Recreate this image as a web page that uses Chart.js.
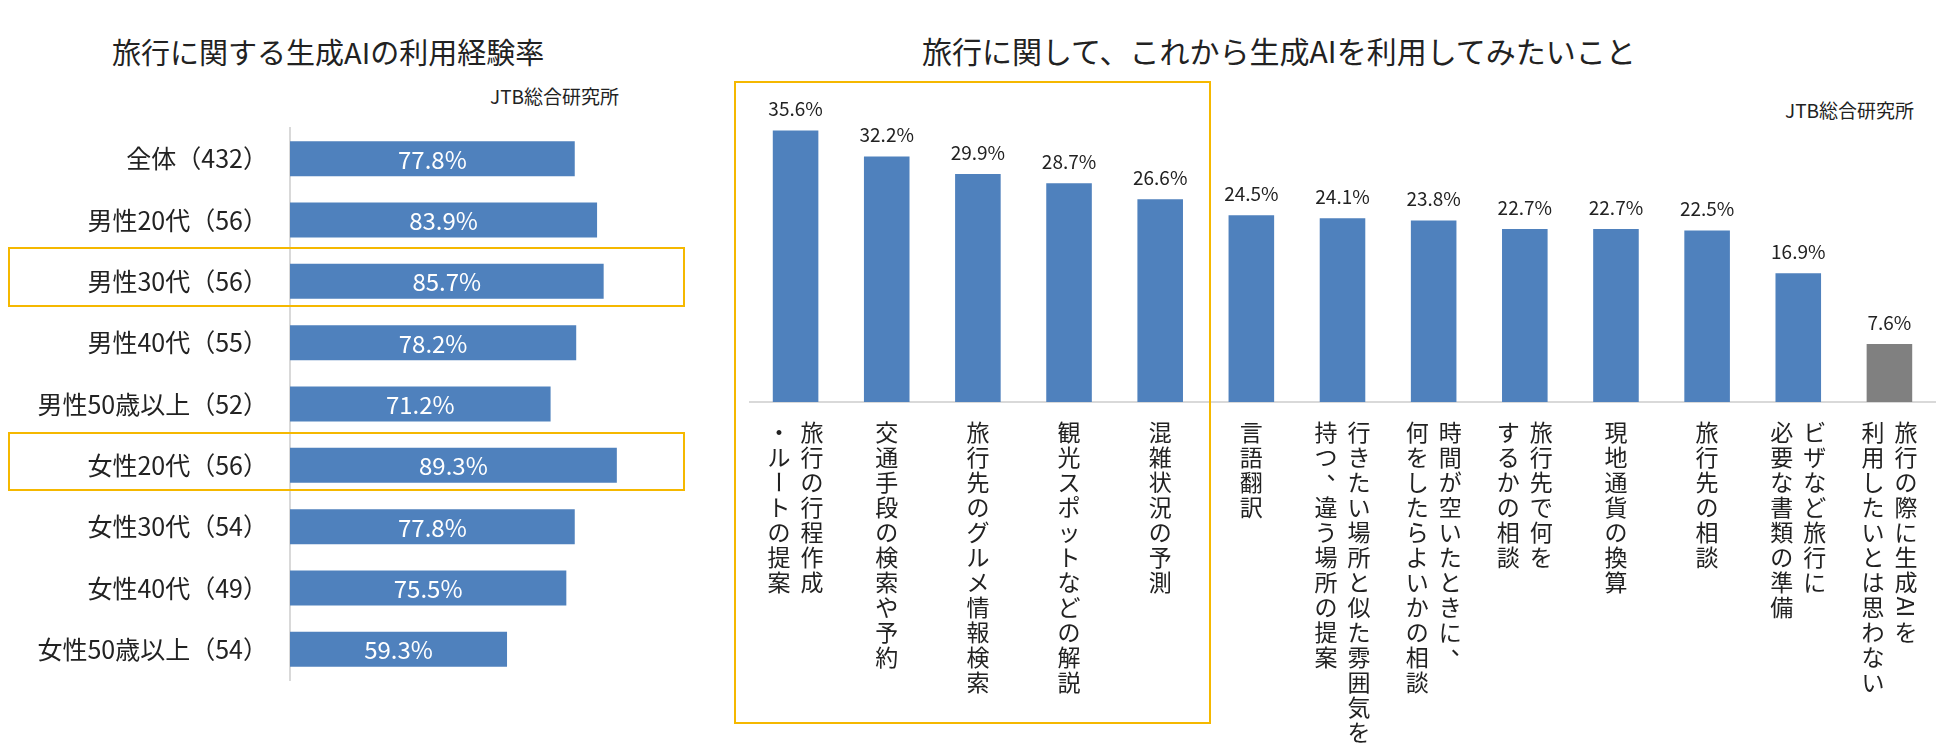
<!DOCTYPE html>
<html><head><meta charset="utf-8">
<script src="https://cdn.jsdelivr.net/npm/chart.js@4"></script>
<style>
body{margin:0;background:#fff;font-family:"Noto Sans CJK JP",sans-serif;color:#222}
#wrap{position:relative;width:1950px;height:756px;overflow:hidden}
.t{position:absolute;white-space:nowrap}
.box{position:absolute;border:2px solid #f5b800;box-sizing:border-box}
canvas{position:absolute}
</style></head><body><div id="wrap">
<div class="t" style="left:112px;top:30px;font-size:29px">旅行に関する生成AIの利用経験率</div>
<div class="t" style="left:490px;top:82px;font-size:19px">JTB総合研究所</div>
<div class="t" style="left:922px;top:28px;font-size:30px">旅行に関して、これから生成AIを利用してみたいこと</div>
<div class="t" style="left:1785px;top:96px;font-size:19px">JTB総合研究所</div>
<div style="position:absolute;left:0;top:0;width:700px;height:756px"><canvas id="c1"></canvas></div>
<div style="position:absolute;left:720px;top:0;width:1230px;height:756px"><canvas id="c2"></canvas></div>
<div class="box" style="left:8px;top:247px;width:677px;height:60px"></div>
<div class="box" style="left:8px;top:432px;width:677px;height:59px"></div>
<div class="box" style="left:734px;top:81px;width:477px;height:643px"></div>
</div>
<script>
const ageLabels = ['全体（432）','男性20代（56）','男性30代（56）','男性40代（55）','男性50歳以上（52）','女性20代（56）','女性30代（54）','女性40代（49）','女性50歳以上（54）'];
const ageValues = [77.8, 83.9, 85.7, 78.2, 71.2, 89.3, 77.8, 75.5, 59.3];

const wishLabels = [
  ['旅行の行程作成','・ルートの提案'],
  ['交通手段の検索や予約'],
  ['旅行先のグルメ情報検索'],
  ['観光スポットなどの解説'],
  ['混雑状況の予測'],
  ['言語翻訳'],
  ['行きたい場所と似た雰囲気を','持つ、違う場所の提案'],
  ['時間が空いたときに、','何をしたらよいかの相談'],
  ['旅行先で何を','するかの相談'],
  ['現地通貨の換算'],
  ['旅行先の相談'],
  ['ビザなど旅行に','必要な書類の準備'],
  ['旅行の際に生成AIを','利用したいとは思わない']
];
const wishValues = [35.6, 32.2, 29.9, 28.7, 26.6, 24.5, 24.1, 23.8, 22.7, 22.7, 22.5, 16.9, 7.6];

const FONT = '"Noto Sans CJK JP", sans-serif';
const blue = '#4f81bd', gray = '#808080';

// white value labels centred in the horizontal bars
const insideLabels = {
  id: 'insideLabels',
  afterDatasetsDraw(chart) {
    const ctx = chart.ctx;
    const meta = chart.getDatasetMeta(0);
    ctx.save();
    ctx.fillStyle = '#fff';
    ctx.font = '24px ' + FONT;
    ctx.textAlign = 'center';
    ctx.textBaseline = 'middle';
    meta.data.forEach((bar, i) => {
      ctx.fillText(ageValues[i].toFixed(1) + '%', (bar.base + bar.x) / 2, bar.y + 1);
    });
    ctx.restore();
  }
};

new Chart(document.getElementById('c1'), {
  type: 'bar',
  data: { labels: ageLabels, datasets: [{ data: ageValues, backgroundColor: blue, barPercentage: 0.57, categoryPercentage: 1 }] },
  options: {
    indexAxis: 'y', responsive: true, maintainAspectRatio: false, animation: false,
    layout: { padding: { top: 128, bottom: 76, right: 44, left: 0 } },
    plugins: { legend: { display: false }, tooltip: { enabled: false } },
    scales: {
      x: { min: 0, max: 100, display: false },
      y: {
        grid: { display: false },
        border: { color: '#d9d9d9', width: 2 },
        ticks: { color: '#222', font: { family: FONT, size: 25 }, padding: 14 },
        afterFit(s) { s.width = 290; }
      }
    }
  },
  plugins: [insideLabels]
});

// values above bars and vertical (tategaki) category labels
const wishText = {
  id: 'wishText',
  afterDatasetsDraw(chart) {
    const ctx = chart.ctx;
    const meta = chart.getDatasetMeta(0);
    const xs = chart.scales.x;
    const base = chart.chartArea.bottom;
    ctx.save();
    ctx.fillStyle = '#222';
    ctx.font = '19px ' + FONT;
    ctx.textAlign = 'center';
    ctx.textBaseline = 'bottom';
    meta.data.forEach((bar, i) => {
      ctx.fillText(wishValues[i].toFixed(1) + '%', bar.x, bar.y - 12);
    });
    ctx.font = '23px ' + FONT;
    ctx.textBaseline = 'middle';
    const step = 25, colGap = 33;
    wishLabels.forEach((lines, i) => {
      const cx = xs.getPixelForValue(i);
      const n = lines.length;
      lines.forEach((line, j) => {
        const x = cx + ((n - 1) / 2 - j) * colGap;
        const units = line.match(/AI|./g);
        units.forEach((ch, k) => {
          const y = base + 30 + k * step;
          if (ch === 'ー') {
            ctx.save(); ctx.translate(x, y); ctx.rotate(Math.PI / 2); ctx.fillText(ch, 0, 0); ctx.restore();
          } else if (ch === '、') {
            ctx.fillText(ch, x + 12, y - 12);
          } else if (ch === 'AI') {
            ctx.save(); ctx.translate(x, y); ctx.rotate(Math.PI / 2); ctx.fillText(ch, 0, 0); ctx.restore();
          } else {
            ctx.fillText(ch, x, y);
          }
        });
      });
    });
    ctx.restore();
  }
};

new Chart(document.getElementById('c2'), {
  type: 'bar',
  data: { labels: wishLabels.map(l => l.join('')), datasets: [{ data: wishValues,
    backgroundColor: wishValues.map((v, i) => i === wishValues.length - 1 ? gray : blue),
    barPercentage: 0.5, categoryPercentage: 1 }] },
  options: {
    responsive: true, maintainAspectRatio: false, animation: false,
    layout: { padding: { top: 97, bottom: 354, left: 30, right: 15 } },
    plugins: { legend: { display: false }, tooltip: { enabled: false } },
    scales: {
      y: { min: 0, max: 40, display: false },
      x: {
        grid: { display: false },
        border: { color: '#d9d9d9', width: 2 },
        ticks: { display: false },
        afterFit(s) { s.height = 0; }
      }
    }
  },
  plugins: [wishText]
});
</script></body></html>
